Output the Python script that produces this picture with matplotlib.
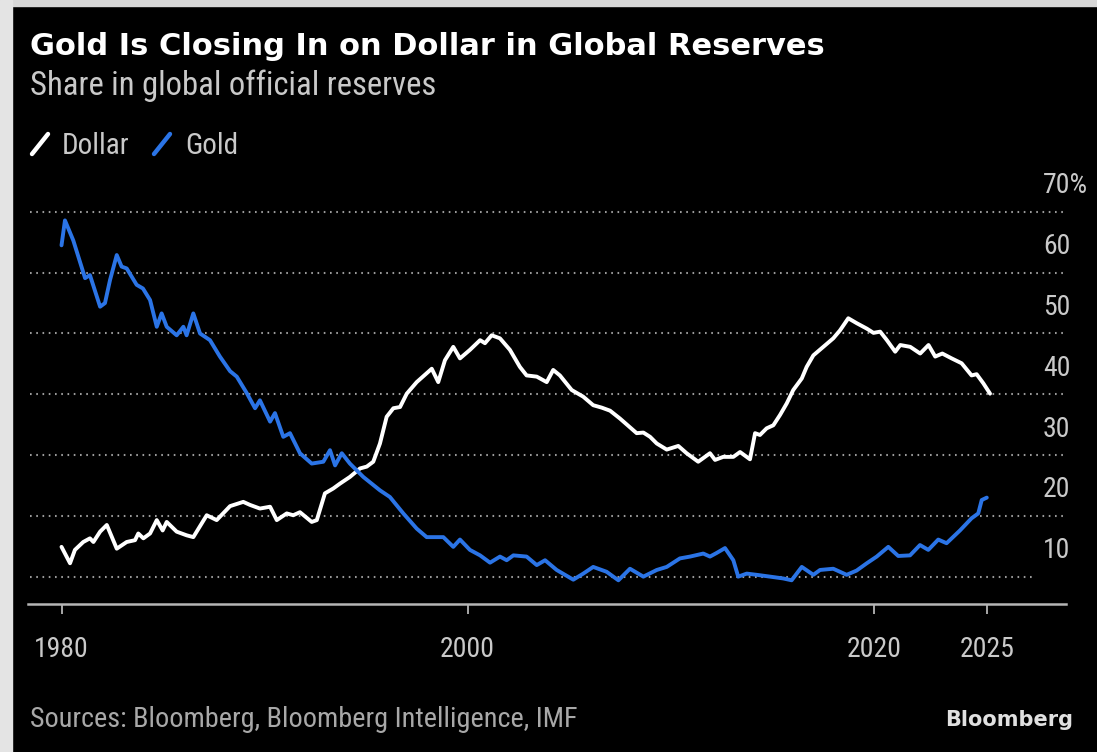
import matplotlib
matplotlib.use('Agg')
import matplotlib.pyplot as plt
from matplotlib.lines import Line2D
from matplotlib.transforms import ScaledTranslation

# ---------------- data ----------------
gold_years = [1980.0, 1980.17, 1980.58, 1981.16, 1981.40, 1981.90, 1982.14, 1982.39, 1982.72, 1982.96,
              1983.21, 1983.70, 1984.01, 1984.36, 1984.69, 1984.93, 1985.18, 1985.67, 1986.00, 1986.16,
              1986.49, 1986.82, 1987.31, 1987.80, 1988.30, 1988.63, 1989.12, 1989.53, 1989.77, 1990.27,
              1990.51, 1990.92, 1991.25, 1991.74, 1992.32, 1992.89, 1993.22, 1993.47, 1993.80, 1994.20,
              1994.86, 1995.68, 1996.17, 1996.83, 1997.49, 1997.98, 1998.80, 1999.29, 1999.62, 2000.11,
              2000.61, 2001.10, 2001.59, 2001.92, 2002.25, 2002.90, 2003.40, 2003.81, 2004.38, 2005.20,
              2005.69, 2006.18, 2006.84, 2007.42, 2007.99, 2008.65, 2009.31, 2009.80, 2010.45, 2010.95,
              2011.60, 2011.93, 2012.26, 2012.67, 2013.08, 2013.32, 2013.74, 2014.23, 2014.89, 2015.54,
              2015.95, 2016.45, 2017.02, 2017.35, 2018.00, 2018.66, 2019.15, 2019.65, 2020.14, 2020.71,
              2021.20, 2021.78, 2022.27, 2022.68, 2023.17, 2023.58, 2024.24, 2024.81, 2025.14, 2025.31,
              2025.56]
gold_share = [64.5, 68.6, 65.3, 59.1, 59.6, 54.4, 55.0, 58.8, 62.9, 61.0,
              60.7, 58.0, 57.4, 55.5, 51.1, 53.3, 51.1, 49.7, 51.1, 49.7,
              53.3, 50.0, 48.9, 46.2, 43.8, 42.9, 40.2, 37.7, 39.0, 35.5,
              36.9, 33.0, 33.6, 30.3, 28.6, 28.9, 30.8, 28.3, 30.3, 28.6,
              26.4, 24.2, 23.1, 20.4, 17.9, 16.5, 16.5, 14.9, 16.1, 14.4,
              13.5, 12.3, 13.3, 12.7, 13.5, 13.3, 11.9, 12.7, 11.1, 9.5,
              10.5, 11.6, 10.8, 9.4, 11.3, 10.0, 11.1, 11.6, 13.0, 13.3,
              13.8, 13.3, 13.9, 14.7, 12.7, 10.0, 10.5, 10.3, 10.0, 9.7,
              9.4, 11.6, 10.3, 11.1, 11.3, 10.3, 11.0, 12.2, 13.3, 14.9,
              13.4, 13.5, 15.2, 14.4, 16.1, 15.5, 17.6, 19.6, 20.4, 22.6,
              23.0]

dollar_years = [1980.0, 1980.42, 1980.66, 1981.07, 1981.40, 1981.57, 1981.90, 1982.23, 1982.72, 1983.21,
                1983.62, 1983.78, 1984.03, 1984.36, 1984.69, 1984.98, 1985.18, 1985.67, 1986.16, 1986.49,
                1987.15, 1987.64, 1988.30, 1988.95, 1989.28, 1989.77, 1990.27, 1990.60, 1991.09, 1991.41,
                1991.74, 1992.32, 1992.57, 1992.97, 1993.38, 1993.71, 1994.20, 1994.70, 1995.03, 1995.35,
                1995.68, 1996.01, 1996.34, 1996.67, 1997.00, 1997.49, 1998.23, 1998.55, 1998.88, 1999.29,
                1999.62, 2000.11, 2000.61, 2000.85, 2001.18, 2001.59, 2002.08, 2002.57, 2002.90, 2003.40,
                2003.89, 2004.21, 2004.54, 2005.12, 2005.69, 2006.18, 2006.60, 2007.01, 2007.50, 2008.32,
                2008.65, 2008.98, 2009.31, 2009.80, 2010.37, 2010.78, 2011.35, 2011.93, 2012.18, 2012.58,
                2013.08, 2013.41, 2013.90, 2014.15, 2014.39, 2014.72, 2015.05, 2015.38, 2015.71, 2016.03,
                2016.45, 2016.69, 2017.02, 2017.51, 2018.00, 2018.33, 2018.74, 2019.15, 2019.65, 2019.98,
                2020.31, 2020.64, 2021.05, 2021.30, 2021.79, 2022.28, 2022.69, 2023.02, 2023.37, 2023.83,
                2024.32, 2024.81, 2025.06, 2025.39, 2025.72]
dollar_share = [14.9, 12.2, 14.4, 15.7, 16.3, 15.7, 17.4, 18.5, 14.6, 15.7,
                16.0, 17.1, 16.3, 17.1, 19.3, 17.6, 19.0, 17.4, 16.8, 16.5,
                20.1, 19.3, 21.6, 22.3, 21.8, 21.2, 21.5, 19.3, 20.4, 20.1,
                20.6, 19.0, 19.3, 23.7, 24.5, 25.3, 26.4, 27.8, 28.1, 28.9,
                31.9, 36.3, 37.7, 37.9, 40.1, 42.0, 44.2, 42.0, 45.6, 47.8,
                45.9, 47.3, 48.9, 48.4, 49.7, 49.2, 47.3, 44.5, 43.1, 42.9,
                42.0, 44.0, 43.1, 40.7, 39.6, 38.2, 37.8, 37.3, 36.0, 33.6,
                33.7, 33.0, 31.9, 30.9, 31.5, 30.3, 28.9, 30.3, 29.2, 29.7,
                29.7, 30.5, 29.3, 33.6, 33.3, 34.4, 34.9, 36.6, 38.5, 40.7,
                42.6, 44.5, 46.4, 47.8, 49.2, 50.5, 52.5, 51.7, 50.8, 50.1,
                50.3, 48.9, 47.0, 48.1, 47.8, 46.7, 48.1, 46.2, 46.7, 45.9,
                45.1, 43.1, 43.3, 41.8, 40.1]

series_names = ['Dollar', 'Gold']
y_ticks = [10, 20, 30, 40, 50, 60, 70]
y_labels = ['10', '20', '30', '40', '50', '60', '70%']
x_ticks = [1980, 2000, 2020]
x_labels = ['1980', '2000', '2020', '2025']

title = 'Gold Is Closing In on Dollar in Global Reserves'
subtitle = 'Share in global official reserves'
source = 'Sources: Bloomberg, Bloomberg Intelligence, IMF'
brand = 'Bloomberg'

# ---------------- style ----------------
W, H = 1097, 752
DOLLAR_C = '#ffffff'
GOLD_C = '#2b74e6'
GRID_C = '#9a9a9a'
TEXT_C = '#c9c9c9'
NARROW = ['Roboto Condensed', 'DejaVu Sans']

fig = plt.figure(figsize=(W / 100, H / 100), dpi=100, facecolor='black')


def fx(px):
    return px / W


def fy(py):
    return 1 - py / H


ax = fig.add_axes([fx(28), fy(604), fx(1066) - fx(28), fy(190) - fy(604)])
ax.set_facecolor('black')
ax.set_xlim(1978.35, 2029.46)
ax.set_ylim(5.5, 73.6)

for v in y_ticks:
    xmax = (1033 - 28) / 1038 if v == y_ticks[0] else 1.0
    ax.axhline(v, xmin=2 / 1038, xmax=xmax, color=GRID_C, lw=1.5,
               ls=(0, (0.8, 2.2)), zorder=1)

ax.plot(dollar_years, dollar_share, color=DOLLAR_C, lw=2.8, zorder=3,
        solid_joinstyle='round', solid_capstyle='round')
ax.plot(gold_years, gold_share, color=GOLD_C, lw=2.8, zorder=3,
        solid_joinstyle='round', solid_capstyle='round')

for s in ['top', 'left', 'right']:
    ax.spines[s].set_visible(False)
ax.spines['bottom'].set_color('#b5b5b5')
ax.spines['bottom'].set_linewidth(1.8)

ax.set_xticks(x_ticks + [gold_years[-1]])
ax.set_xticklabels(x_labels, family=NARROW, fontsize=20, color=TEXT_C)
ax.tick_params(axis='x', direction='out', length=7, width=1.3, color='#b5b5b5', pad=16)
ax.set_yticks([])

off = ScaledTranslation(-0.23, 0.26, fig.dpi_scale_trans)
for v, lab in zip(y_ticks, y_labels):
    ax.text(1.0, v, lab, transform=ax.get_yaxis_transform() + off,
            ha='left', va='center', family=NARROW, fontsize=20, color=TEXT_C)

fig.text(fx(30), fy(55), title, family='DejaVu Sans', weight='bold', fontsize=22,
         color='white', va='baseline', ha='left')
fig.text(fx(30), fy(95), subtitle, family=NARROW, fontsize=23.5, color=TEXT_C,
         va='baseline', ha='left')

# legend
lx = [30, 152]
tx = [62, 185]
for name, c, x0, t0 in zip(series_names, [DOLLAR_C, GOLD_C], lx, tx):
    fig.add_artist(Line2D([fx(x0 + 2), fx(x0 + 18)], [fy(154), fy(134)], color=c, lw=3.2,
                          solid_capstyle='round', transform=fig.transFigure))
    fig.text(fx(t0), fy(154), name, family=NARROW, fontsize=21, color=TEXT_C,
             va='baseline', ha='left')

fig.text(fx(30), fy(727), source, family=NARROW, fontsize=20.3, color='#a8a8a8',
         va='baseline', ha='left')
fig.text(fx(1073), fy(726), brand, family='DejaVu Sans', weight='bold', fontsize=15,
         color='#e0e0e0', va='baseline', ha='right')

# frame strips (light border at top and left of the screenshot)
fig.add_artist(plt.Rectangle((0, fy(6)), 1, 1 - fy(6), transform=fig.transFigure,
                             color='#d8d8d8', zorder=0))
fig.add_artist(plt.Rectangle((0, 0), fx(12), 1, transform=fig.transFigure,
                             color='#e4e4e4', zorder=0))

fig.savefig('out.png', dpi=100, facecolor=fig.get_facecolor())
